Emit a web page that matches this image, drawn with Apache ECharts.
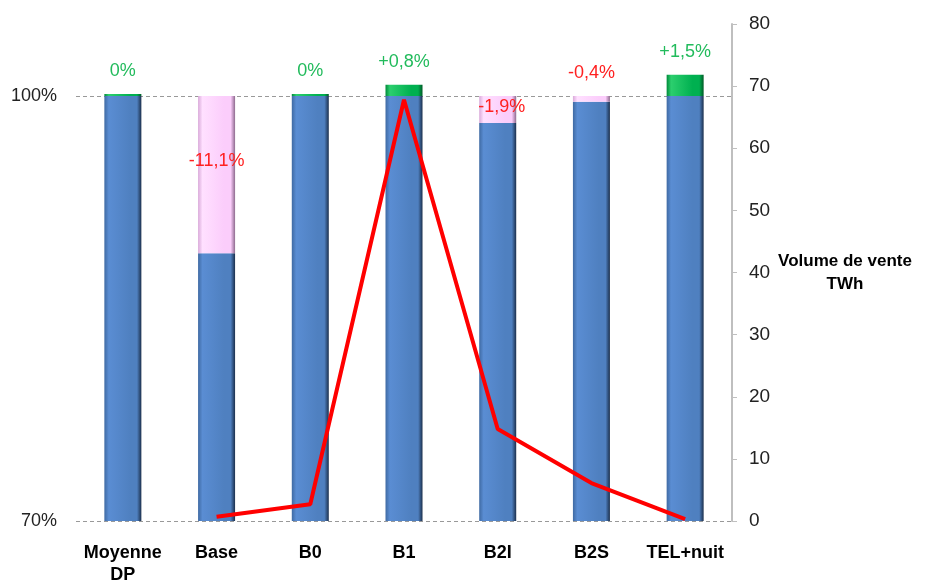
<!DOCTYPE html>
<html>
<head>
<meta charset="utf-8">
<script src="https://cdn.jsdelivr.net/npm/echarts@6/dist/echarts.min.js"></script>
<style>
  html, body { margin: 0; padding: 0; background: #fff; }
  #chart { width: 934px; height: 581px; }
</style>
</head>
<body>
<div id="chart"></div>
<script>
// données
const categories = ['Moyenne\nDP', 'Base', 'B0', 'B1', 'B2I', 'B2S', 'TEL+nuit'];
const baseValues = [100, 88.9, 100, 100, 98.1, 99.6, 100];   // % (bleu)
const decreaseValues = ['-', 11.1, '-', '-', 1.9, 0.4, '-'];  // baisse (rose)
const increaseValues = [0, '-', 0, 0.8, '-', '-', 1.5];       // hausse (vert)
const changeLabels = ['0%', '-11,1%', '0%', '+0,8%', '-1,9%', '-0,4%', '+1,5%'];
const volumeValues = ['-', 0.7, 2.7, 67.8, 14.8, 6.1, 0.3];  // TWh (ligne rouge)
const leftTicks = [70, 100];

const FONT = 'Liberation Sans';

function barGrad(edge, light, main, dark) {
  return new echarts.graphic.LinearGradient(0, 0, 1, 0, [
    { offset: 0, color: edge },
    { offset: 0.12, color: light },
    { offset: 0.7, color: main },
    { offset: 0.88, color: main },
    { offset: 1, color: dark }
  ]);
}

const chart = echarts.init(document.getElementById('chart'));

const redLabel = { color: '#FF2020', fontSize: 18, fontFamily: FONT };
const pinkData = decreaseValues.map((v, i) => {
  if (v === '-') return v;
  let label;
  if (i === 1) label = { show: true, position: 'inside', offset: [0, -14] };
  else if (i === 4) label = { show: true, position: 'inside', offset: [4, -2] };
  else label = { show: true, position: 'top', offset: [0, -9] };
  return { value: v, label: Object.assign({ formatter: changeLabels[i] }, redLabel, label) };
});
const greenData = increaseValues.map((v, i) => {
  if (v === '-') return v;
  return {
    value: v,
    label: {
      show: true, position: 'top', offset: [0, -9], formatter: changeLabels[i],
      color: '#22BB5C', fontSize: 18, fontFamily: FONT
    }
  };
});

chart.setOption({
  animation: false,
  textStyle: { fontFamily: FONT },
  grid: { left: 76, right: 202, top: 24, bottom: 60, containLabel: false, outerBoundsMode: 'none' },
  xAxis: {
    type: 'category',
    data: categories,
    axisLine: { show: false },
    axisTick: { show: false },
    axisLabel: {
      interval: 0,
      color: '#000', fontSize: 18, fontWeight: 'bold', fontFamily: FONT,
      margin: 21, lineHeight: 22
    }
  },
  yAxis: [
    {
      type: 'value',
      min: 70,
      max: 105.08,
      interval: 30,
      axisLine: { show: false },
      axisTick: { show: false },
      axisLabel: {
        color: '#222', fontSize: 18, fontFamily: FONT, margin: 19,
        showMaxLabel: false,
        formatter: v => leftTicks.includes(v) ? v + '%' : ''
      },
      splitLine: { showMaxLine: false, lineStyle: { color: '#999', type: [4, 3], width: 1 } }
    },
    {
      type: 'value',
      min: 0,
      max: 80,
      interval: 10,
      position: 'right',
      axisLine: { show: true, lineStyle: { color: '#BFBFBF', width: 2 } },
      axisTick: { show: true, inside: false, length: 5, lineStyle: { color: '#BFBFBF' } },
      axisLabel: { color: '#222', fontSize: 19, fontFamily: FONT, margin: 17 },
      splitLine: { show: false },
      name: 'Volume de vente\nTWh',
      nameLocation: 'middle',
      nameRotate: 0,
      nameGap: 113,
      nameTextStyle: {
        color: '#000', fontSize: 17, fontWeight: 'bold', fontFamily: FONT,
        lineHeight: 23, align: 'center'
      }
    }
  ],
  series: [
    {
      name: 'base',
      type: 'bar',
      stack: 'total',
      barWidth: 37,
      itemStyle: { color: barGrad('#3f6aa3', '#5a8dd3', '#4f80c0', '#1b2f4c') },
      data: baseValues
    },
    {
      name: 'baisse',
      type: 'bar',
      stack: 'total',
      barWidth: 37,
      itemStyle: { color: barGrad('#d9a9d9', '#ffe0ff', '#fbcdfb', '#8e6a8e') },
      data: pinkData
    },
    {
      name: 'hausse',
      type: 'bar',
      stack: 'total',
      barWidth: 37,
      barMinHeight: 2,
      itemStyle: { color: barGrad('#008a3a', '#2ccf6e', '#00b050', '#005a26') },
      data: greenData
    },
    {
      name: 'Volume de vente',
      type: 'line',
      yAxisIndex: 1,
      showSymbol: false,
      symbol: 'none',
      lineStyle: { color: '#FF0000', width: 4 },
      data: volumeValues,
      z: 5
    }
  ]
});
</script>
</body>
</html>
